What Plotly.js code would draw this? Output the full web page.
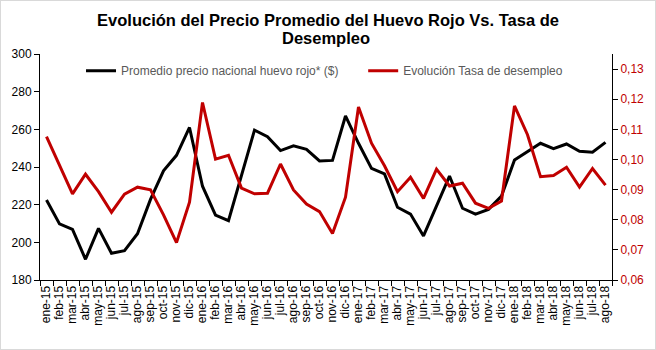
<!DOCTYPE html>
<html><head><meta charset="utf-8">
<script src="https://cdn.plot.ly/plotly-3.0.1.min.js"></script>
<style>html,body{margin:0;padding:0;background:#fff}#c{width:656px;height:350px;box-sizing:border-box;border:1px solid #d9d9d9}</style>
</head><body><div id="c"></div>
<script>
const months = ["ene-15","feb-15","mar-15","abr-15","may-15","jun-15","jul-15","ago-15","sep-15","oct-15","nov-15","dic-15",
"ene-16","feb-16","mar-16","abr-16","may-16","jun-16","jul-16","ago-16","sep-16","oct-16","nov-16","dic-16",
"ene-17","feb-17","mar-17","abr-17","may-17","jun-17","jul-17","ago-17","sep-17","oct-17","nov-17","dic-17",
"ene-18","feb-18","mar-18","abr-18","may-18","jun-18","jul-18","ago-18"];
const precioHuevo = [222.5,209.8,206.9,191.0,207.4,194.2,195.6,204.6,222.8,238.0,246.2,261.0,
229.8,214.4,211.5,235.4,259.6,256.1,248.7,251.2,249.4,243.2,243.5,267.1,
252.6,239.3,236.3,218.6,215.0,203.4,219.3,235.2,218.1,215.0,217.5,224.6,
243.7,248.1,252.6,249.7,252.2,248.3,247.8,253.1];
const tasaDesempleo = [0.1076,0.0982,0.0886,0.0951,0.0893,0.0825,0.0885,0.0908,0.0899,0.0816,0.0724,0.0858,
0.1189,0.1001,0.1014,0.0905,0.0886,0.0888,0.0985,0.0899,0.0852,0.0827,0.0754,0.0875,
0.1174,0.1054,0.0979,0.0893,0.0941,0.0871,0.0968,0.0912,0.0921,0.0855,0.0838,0.0862,
0.1178,0.1082,0.0943,0.0947,0.0974,0.0908,0.0970,0.0915];
const yTicks = [180,200,220,240,260,280,300];
const y2Ticks = [0.06,0.07,0.08,0.09,0.10,0.11,0.12,0.13];

const traces = [
 {x: months, y: precioHuevo, type:'scatter', mode:'lines', name:'Promedio precio nacional huevo rojo* ($)',
  line:{color:'#000000', width:3}, legend:'legend'},
 {x: months, y: tasaDesempleo, type:'scatter', mode:'lines', name:'Evolución Tasa de desempleo', yaxis:'y2',
  line:{color:'#C00000', width:3}, legend:'legend2'}
];
const legStyle = {orientation:'h', y:0.99, xanchor:'left', yanchor:'top', bgcolor:'rgba(0,0,0,0)',
  font:{size:12, color:'#595959'}, itemwidth:30};
const layout = {
 width:654, height:348,
 margin:{l:39, r:43, t:53, b:69},
 separators:',.',
 paper_bgcolor:'#fff', plot_bgcolor:'#fff',
 font:{family:'Arial, Liberation Sans, sans-serif', size:11, color:'#000'},
 title:{text:'<b>Evolución del Precio Promedio del Huevo Rojo Vs. Tasa de</b>',
  x:0.5, xanchor:'center', yref:'container', y:0.945, yanchor:'middle',
  font:{size:16.5, color:'#000', family:'Arial, Liberation Sans, sans-serif'}},
 annotations:[{text:'<b>Desempleo</b>', xref:'paper', yref:'paper', x:0.5, y:1.0708, xanchor:'center', yanchor:'middle',
  showarrow:false, font:{size:16.5, color:'#000', family:'Arial, Liberation Sans, sans-serif'}}],
 showlegend:true,
 legend:Object.assign({}, legStyle, {x:0.0717}),
 legend2:Object.assign({}, legStyle, {x:0.565}),
 xaxis:{type:'category', tickmode:'array', tickvals:months, ticktext:months, tickangle:-90,
  range:[-0.5, months.length-0.5], showline:true, linecolor:'#000', linewidth:1, ticks:'outside', ticklen:5,
  tickcolor:'#000', tickson:'boundaries', showgrid:false, zeroline:false, tickfont:{size:12, color:'#000'}},
 yaxis:{range:[180,300], tickvals:yTicks, showline:true, linecolor:'#000', linewidth:1, ticks:'outside', ticklen:5,
  tickcolor:'#000', showgrid:false, zeroline:false, tickfont:{size:12, color:'#000'}},
 yaxis2:{overlaying:'y', side:'right', range:[0.06,0.135], tickvals:y2Ticks, tickformat:'.2f', showline:true,
  linecolor:'#000', linewidth:1, ticks:'outside', ticklen:5, tickcolor:'#000', showgrid:false, zeroline:false,
  tickfont:{size:12, color:'#C00000'}}
};
Plotly.newPlot('c', traces, layout, {displayModeBar:false, staticPlot:true});
</script></body></html>
